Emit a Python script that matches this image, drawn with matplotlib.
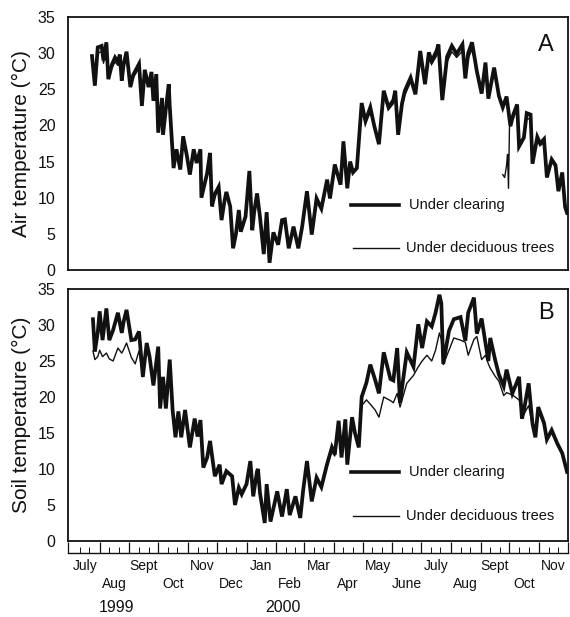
"""Air and soil temperature under a clearing and under deciduous trees, 1999-2000."""

import datetime as dt

import matplotlib

matplotlib.use("Agg")
import matplotlib.pyplot as plt
import matplotlib.transforms as mtransforms
import numpy as np

plt.rcParams["font.family"] = ["Liberation Sans", "DejaVu Sans"]

INK = "#111111"
START = dt.date(1999, 7, 1)

# days counted from 1 July 1999
air_days = [
    23, 26, 29, 33, 35, 38, 40, 44, 47, 50, 52, 54, 56, 59, 63, 66, 70, 72, 75, 78,
    82, 85, 87, 90, 92, 96, 97, 101, 103, 104, 108, 111, 115, 118, 122, 125, 129, 132, 136, 137,
    143, 146, 148, 151, 155, 158, 161, 163, 167, 170, 173, 176, 178, 183, 187, 190, 192, 195, 198, 202,
    205, 208, 212, 217, 221, 224, 228, 233, 238, 242, 247, 252, 257, 262, 268, 271, 276, 282, 285, 289,
    292, 295, 299, 304, 308, 313, 317, 322, 327, 332, 337, 339, 342, 346, 349, 355, 360, 365, 370, 374,
    377, 382, 384, 388, 393, 398, 403, 409, 412, 415, 419, 424, 429, 433, 436, 442, 447, 451, 455, 459,
    462, 466, 468, 473, 476, 480, 482, 487, 490, 494, 497, 502, 506, 509, 513, 516, 518,
]
air_clearing = [
    29.6, 25.5, 30.8, 31.0, 29.0, 31.5, 26.4, 28.5, 29.4, 28.8, 29.8, 26.2, 28.5, 30.2, 25.3, 27.0, 28.0, 28.5, 22.7, 27.7,
    25.3, 27.4, 23.4, 27.1, 19.0, 23.8, 18.7, 23.5, 25.7, 22.7, 14.1, 16.7, 13.9, 18.5, 15.7, 13.2, 16.7, 14.8, 16.7, 10.0,
    13.4, 16.2, 8.8, 10.5, 11.5, 6.9, 9.5, 10.8, 8.8, 3.0, 5.0, 8.3, 5.3, 7.4, 13.7, 5.5, 8.0, 10.6, 7.4, 2.2,
    8.0, 1.0, 5.2, 3.5, 6.9, 7.0, 3.0, 6.0, 3.0, 6.0, 10.9, 4.9, 9.9, 8.5, 12.5, 9.9, 14.6, 11.8, 17.8, 11.3,
    15.0, 13.5, 14.1, 23.1, 20.6, 22.5, 20.0, 17.4, 24.8, 22.5, 23.5, 24.8, 18.7, 23.0, 24.8, 26.6, 24.3, 30.3, 25.7, 30.1,
    28.9, 30.3, 31.2, 23.5, 29.5, 31.0, 29.9, 31.2, 26.5, 30.0, 31.5, 27.5, 24.4, 28.7, 23.7, 28.0, 24.1, 22.5, 24.0, 19.9,
    21.5, 22.9, 17.1, 18.3, 21.7, 21.5, 14.7, 18.4, 17.5, 18.1, 12.8, 15.3, 14.5, 10.9, 13.5, 8.7, 7.9,
]
air_trees = [
    29.0, 26.3, 30.0, 30.2, 28.6, 30.5, 27.0, 28.0, 28.8, 28.3, 29.2, 26.8, 28.0, 29.4, 25.9, 26.6, 27.5, 27.9, 23.5, 27.0,
    25.6, 26.8, 24.0, 26.4, 19.8, 23.2, 19.5, 23.0, 25.0, 22.5, 14.8, 16.3, 14.4, 17.8, 15.5, 13.8, 16.2, 15.0, 16.0, 10.6,
    13.0, 15.4, 9.5, 10.2, 11.0, 7.5, 9.2, 10.2, 8.6, 3.6, 5.2, 7.8, 5.8, 7.2, 12.5, 6.2, 7.8, 10.0, 7.5, 2.8,
    7.4, 1.8, 5.0, 3.9, 6.4, 6.6, 3.5, 5.7, 3.4, 5.8, 10.2, 5.4, 9.4, 8.4, 12.0, 10.0, 14.0, 12.0, 16.8, 11.9,
    14.6, 13.6, 14.0, 22.0, 20.4, 21.8, 20.0, 17.9, 24.0, 22.2, 23.0, 24.2, 19.3, 22.5, 24.2, 26.0, 24.5, 29.3, 26.0, 29.2,
    28.5, 29.6, 30.2, 24.3, 28.8, 30.2, 29.4, 30.3, 27.0, 29.3, 30.5, 27.6, 25.0, 28.0, 24.3, 27.4, 24.4, np.nan, np.nan, 20.3,
    21.0, 22.2, 17.8, 18.2, 21.0, 20.8, 15.4, 18.0, 17.2, 17.6, 13.3, 15.0, 14.2, 11.5, 13.0, 9.2, 8.3,
]
# deciduous-tree air record restarting after the early-September gap
air_trees_restart_days = [451, 453, 455, 456, 457, 458, 459]
air_trees_restart = [13.2, 12.8, 14.5, 16.0, 11.3, 19.7, 20.3]

soil_days = [
    24, 26, 29, 31, 34, 38, 41, 45, 50, 54, 56, 59, 64, 68, 72, 76, 80, 83, 87, 92,
    94, 97, 100, 104, 107, 110, 113, 116, 120, 125, 130, 133, 136, 139, 143, 146, 151, 156, 158, 163,
    169, 172, 176, 179, 184, 188, 191, 195, 196, 198, 203, 205, 209, 216, 221, 226, 229, 235, 240, 243,
    247, 252, 257, 262, 268, 273, 276, 280, 283, 287, 289, 294, 297, 301, 304, 309, 313, 318, 322, 327,
    334, 337, 341, 344, 351, 358, 363, 367, 372, 377, 381, 385, 387, 389, 395, 400, 407, 412, 415, 421,
    424, 429, 433, 436, 438, 443, 447, 452, 455, 461, 468, 471, 473, 478, 482, 485, 488, 494, 497, 502,
    508, 513, 518,
]
soil_clearing = [
    30.8, 26.3, 29.0, 31.9, 27.9, 32.3, 27.9, 29.3, 31.7, 28.9, 30.5, 32.1, 27.9, 28.0, 29.1, 22.8, 27.5, 25.6, 21.6, 27.0,
    18.4, 22.8, 18.4, 25.2, 18.2, 14.4, 18.0, 14.4, 18.2, 13.0, 17.0, 14.5, 16.8, 10.2, 11.6, 13.9, 9.0, 10.6, 7.9, 9.7,
    9.0, 5.0, 7.4, 6.5, 7.9, 11.1, 6.2, 9.7, 10.0, 6.7, 2.5, 7.9, 2.7, 6.9, 3.4, 7.2, 3.6, 6.2, 3.2, 7.0,
    11.1, 5.5, 8.8, 7.5, 10.7, 13.0, 12.0, 16.7, 11.6, 16.9, 10.6, 17.2, 15.0, 13.0, 20.0, 22.0, 24.5, 22.4, 20.5, 26.2,
    22.5, 22.3, 26.8, 19.2, 26.2, 24.2, 30.1, 26.8, 30.5, 29.8, 31.7, 34.2, 33.0, 24.6, 29.2, 30.8, 31.1, 27.8, 31.7, 33.8,
    28.8, 30.9, 27.5, 25.0, 28.2, 25.2, 23.1, 21.5, 23.8, 20.5, 22.8, 17.0, 18.1, 21.9, 16.3, 14.4, 18.6, 16.4, 14.1, 15.4,
    13.5, 12.2, 9.6,
]
soil_trees = [
    26.4, 25.2, 25.6, 26.5, 25.6, 26.1, 25.3, 25.0, 26.8, 26.1, 26.6, 27.5, 25.5, 24.6, 26.4, 22.8, 26.8, 25.2, 21.8, 26.4,
    18.8, 22.4, 18.8, 24.6, 18.4, 14.8, 17.6, 14.8, 17.8, 13.3, 16.6, 14.7, 16.4, 10.5, 11.5, 13.5, 9.2, 10.4, 8.2, 9.5,
    8.9, 5.3, 7.2, 6.5, 7.7, 10.4, 6.4, 9.3, 9.6, 6.9, 2.9, 7.5, 3.0, 6.6, 3.7, 6.9, 3.9, 6.0, 3.5, 6.8,
    10.6, 5.9, 8.5, 7.4, 10.3, 12.6, 11.8, 16.0, 11.9, 16.2, 11.0, 16.6, 14.8, 13.2, 18.8, 19.6, 19.0, 18.2, 17.2, 20.0,
    19.5, 19.2, 20.5, 18.6, 21.9, 23.0, 24.2, 25.0, 25.8, 25.0, 26.5, 28.9, 28.0, 24.5, 26.5, 28.2, 27.9, 27.6, 25.8, 28.0,
    28.4, 25.2, 25.8, 24.6, 24.0, 22.9, 22.2, 20.2, 20.6, 20.3, 19.6, 18.1, 17.6, 18.8, 16.0, 14.6, 18.0, 16.1, 14.2, 15.0,
    13.4, 12.0, 9.5,
]

MONTHS = ["July", "Aug", "Sept", "Oct", "Nov", "Dec", "Jan", "Feb", "Mar",
          "Apr", "May", "June", "July", "Aug", "Sept", "Oct", "Nov"]
YEARS = [("1999", 49), ("2000", 222)]

X_MIN, X_MAX = -2, 519


def _month_start(i):
    return dt.date(1999 + (6 + i) // 12, (6 + i) % 12 + 1, 1)


def _day(d):
    return (d - START).days


def _panel(ax, days, clearing, trees, ylabel, letter, leg_y):
    ax.plot(days, clearing, color=INK, linewidth=2.7, solid_joinstyle="miter")
    ax.plot(days, trees, color=INK, linewidth=1.0)
    ax.set_xlim(X_MIN, X_MAX)
    ax.set_ylim(0, 35)
    ax.set_yticks(range(0, 36, 5))
    ax.set_xticks([])
    ax.tick_params(axis="y", length=0, pad=9, labelsize=11.5, colors=INK)
    ax.set_ylabel(ylabel, fontsize=15, color=INK, labelpad=5)
    for sp in ax.spines.values():
        sp.set_linewidth(1.3)
        sp.set_color(INK)
    ax.text(0.955, leg_y[2], letter, transform=ax.transAxes, fontsize=17,
            ha="center", va="center", color=INK)
    # hand-placed key, as in the original figure
    ax.plot([0.566, 0.662], [leg_y[0]] * 2, transform=ax.transAxes, color=INK, linewidth=2.6)
    ax.plot([0.570, 0.662], [leg_y[1]] * 2, transform=ax.transAxes, color=INK, linewidth=1.0)
    ax.text(0.682, leg_y[0], "Under clearing", transform=ax.transAxes, fontsize=10.5,
            va="center", color=INK)
    ax.text(0.676, leg_y[1], "Under deciduous trees", transform=ax.transAxes, fontsize=10.5,
            va="center", color=INK)


fig = plt.figure(figsize=(5.70, 6.17), dpi=100)
W, H = 570.0, 617.0
left, width = 68 / W, 500 / W

ax_a = fig.add_axes([left, 1 - 270 / H, width, 253 / H])
_panel(ax_a, air_days, air_clearing, air_trees, "Air temperature (°C)", "A", (0.257, 0.087, 0.889))
ax_a.plot(air_trees_restart_days, air_trees_restart, color=INK, linewidth=1.0)

ax_b = fig.add_axes([left, 1 - 541 / H, width, 252 / H])
_panel(ax_b, soil_days, soil_clearing, soil_trees, "Soil temperature (°C)", "B", (0.274, 0.099, 0.905))

# separate date scale under panel B
ax_t = fig.add_axes([left, 1 - 553 / H, width, 0.02])
ax_t.set_xlim(X_MIN, X_MAX)
ax_t.set_ylim(0, 1)
for name in ("top", "left", "right"):
    ax_t.spines[name].set_visible(False)
ax_t.spines["bottom"].set_linewidth(1.0)
ax_t.spines["bottom"].set_color(INK)
ax_t.patch.set_visible(False)
ax_t.set_yticks([])

starts = [_month_start(i) for i in range(18)]
ax_t.set_xticks([X_MIN + 0.5] + [_day(d) for d in starts[1:]])
ax_t.set_xticks([_day(d.replace(day=k)) for d in starts[:17] for k in (11, 21)], minor=True)
ax_t.set_xticklabels([])
ax_t.tick_params(axis="x", which="major", direction="in", length=8, width=0.9, colors=INK)
ax_t.tick_params(axis="x", which="minor", direction="in", length=4, width=0.7, colors=INK)

trans = mtransforms.blended_transform_factory(ax_t.transData, fig.transFigure)
for i, name in enumerate(MONTHS):
    mid = (_day(starts[i]) + _day(starts[i + 1])) / 2
    y_px = 566 if i % 2 == 0 else 584
    fig.text(mid, 1 - y_px / H, name, transform=trans, ha="center", va="center",
             fontsize=10, color=INK)
for label, day in YEARS:
    fig.text(day, 1 - 607 / H, label, transform=trans, ha="center", va="center",
             fontsize=11.5, color=INK)

fig.savefig("out.png", dpi=100, facecolor="white")
